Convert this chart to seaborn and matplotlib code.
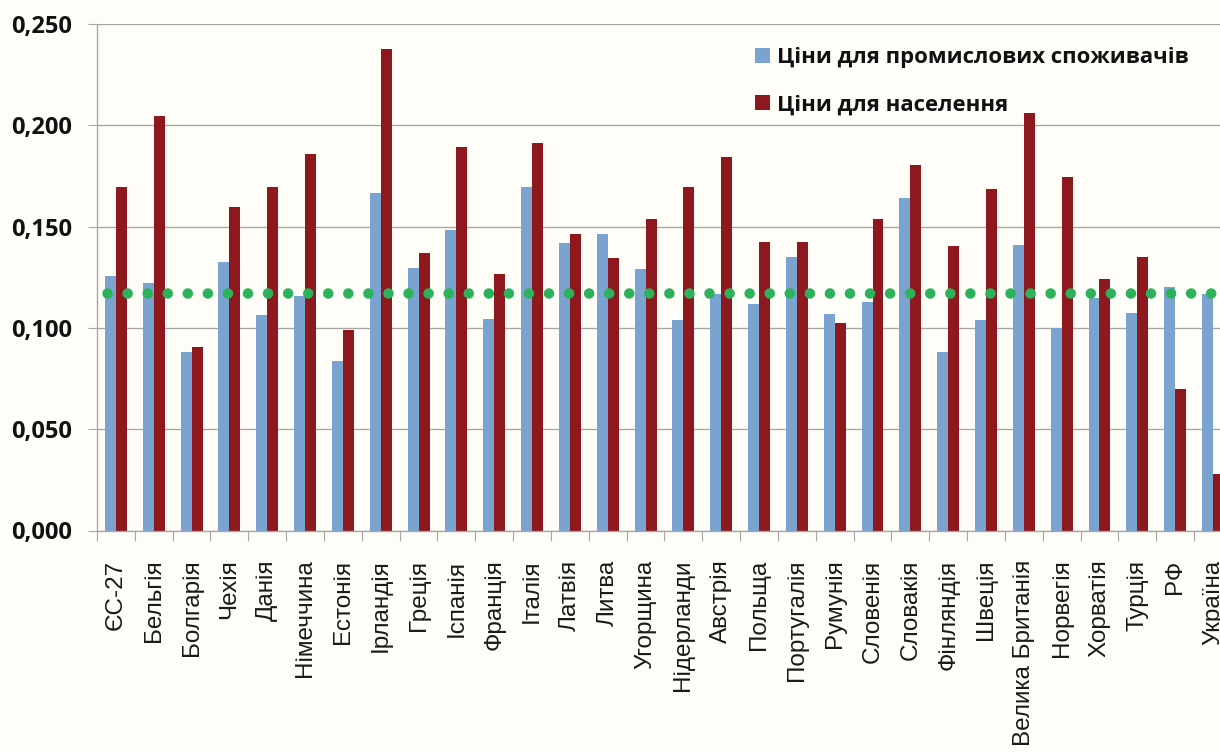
import matplotlib
matplotlib.use("Agg")
import matplotlib.pyplot as plt
from matplotlib.ticker import FuncFormatter, FixedLocator
import numpy as np
import pandas as pd
import seaborn as sns

# Electricity prices by country, EUR/kWh
countries = ["ЄС-27", "Бельгія", "Болгарія", "Чехія", "Данія", "Німеччина",
             "Естонія", "Ірландія", "Греція", "Іспанія", "Франція", "Італія",
             "Латвія", "Литва", "Угорщина", "Нідерланди", "Австрія", "Польща",
             "Португалія", "Румунія", "Словенія", "Словакія", "Фінляндія",
             "Швеція", "Велика Британія", "Норвегія", "Хорватія", "Турція",
             "РФ", "Україна"]

industrial = [0.1255, 0.1221, 0.0883, 0.1323, 0.1066, 0.1155, 0.0835, 0.1668,
              0.1296, 0.1485, 0.1044, 0.1696, 0.1417, 0.1464, 0.1289, 0.1037,
              0.1165, 0.1119, 0.1350, 0.1071, 0.1126, 0.1641, 0.0883, 0.1037,
              0.1410, 0.1000, 0.1146, 0.1072, 0.1200, 0.1166]

household = [0.1696, 0.2048, 0.0908, 0.1595, 0.1696, 0.1857, 0.0990, 0.2376,
             0.1369, 0.1891, 0.1267, 0.1912, 0.1464, 0.1344, 0.1539, 0.1696,
             0.1845, 0.1422, 0.1422, 0.1024, 0.1539, 0.1803, 0.1403, 0.1687,
             0.2063, 0.1743, 0.1241, 0.1350, 0.0698, 0.0278]

series_names = ["Ціни для промислових споживачів", "Ціни для населення"]
reference_level = 0.1174
y_ticks = [0.0, 0.05, 0.10, 0.15, 0.20, 0.25]

blue = "#7BA3CF"
red = "#8D181D"
green = "#2BB25A"
grid_gray = "#A6A6A6"
bg = "#FEFDF8"

df = pd.DataFrame({
    "country": countries * 2,
    "value": industrial + household,
    "series": [series_names[0]] * len(countries) + [series_names[1]] * len(countries),
})

sns.set_style("white")
plt.rcParams["font.family"] = ["Liberation Sans", "DejaVu Sans"]

W, H = 1220, 752
fig = plt.figure(figsize=(W / 100, H / 100), dpi=100, facecolor=bg)
px = lambda x: x / W
py = lambda y: y / H
left, right = 97, 97 + 30 * 37.83
y_zero, y_top = 530.5, 24
ax = fig.add_axes([px(left), 1 - py(y_zero), px(right - left), py(y_zero - y_top)])
ax.set_facecolor(bg)

sns.barplot(data=df, x="country", y="value", hue="series", order=countries,
            hue_order=series_names, palette=[blue, red], width=0.58, gap=0,
            saturation=1, ax=ax, legend=True, linewidth=0)

ax.axhline(reference_level, color=green, lw=7.6,
           linestyle=(0.95, (0.001, 1.9)), dash_capstyle="round", zorder=5)

ax.set_xlim(-0.5, len(countries) - 0.5)
ax.set_ylim(0, 0.25)
ax.set_xlabel("")
ax.set_ylabel("")

# horizontal grid
ax.yaxis.set_major_locator(FixedLocator(y_ticks))
ax.yaxis.set_major_formatter(FuncFormatter(lambda v, p: f"{v:.3f}".replace(".", ",")))
ax.grid(axis="y", color=grid_gray, lw=0.95)
ax.grid(axis="x", visible=False)
ax.set_axisbelow(True)

for s in ["top", "right"]:
    ax.spines[s].set_visible(False)
for s in ["left", "bottom"]:
    ax.spines[s].set_color(grid_gray)
    ax.spines[s].set_linewidth(0.95)

ax.tick_params(axis="y", which="major", length=6.5, width=0.8, color=grid_gray,
               pad=11.5, labelsize=17, direction="out", left=True)
for lab in ax.get_yticklabels():
    lab.set_fontfamily(["Open Sans", "DejaVu Sans"])
    lab.set_fontweight("bold")
    lab.set_color("#111111")

ax.xaxis.set_minor_locator(FixedLocator(np.arange(-0.5, len(countries) + 0.5, 1.0)))
ax.tick_params(axis="x", which="minor", length=7.2, width=0.8, color=grid_gray,
               direction="out", bottom=True)
ax.tick_params(axis="x", which="major", length=0, pad=21, labelsize=17.5,
               labelcolor="#1A1A1A")
plt.setp(ax.get_xticklabels(), rotation=90)

handles, labels = ax.get_legend_handles_labels()
ax.get_legend().remove()
leg = fig.legend(handles, labels, loc="upper left",
                 bbox_to_anchor=(px(755), 1 - py(47)), bbox_transform=fig.transFigure,
                 frameon=False, borderpad=0, borderaxespad=0,
                 handlelength=0.68, handleheight=0.68, handletextpad=0.3,
                 labelspacing=1.2,
                 prop={"family": ["Open Sans", "DejaVu Sans"], "weight": "bold", "size": 15.9})
for t in leg.get_texts():
    t.set_color("#111111")

fig.savefig("out.png", dpi=100, facecolor=bg)
